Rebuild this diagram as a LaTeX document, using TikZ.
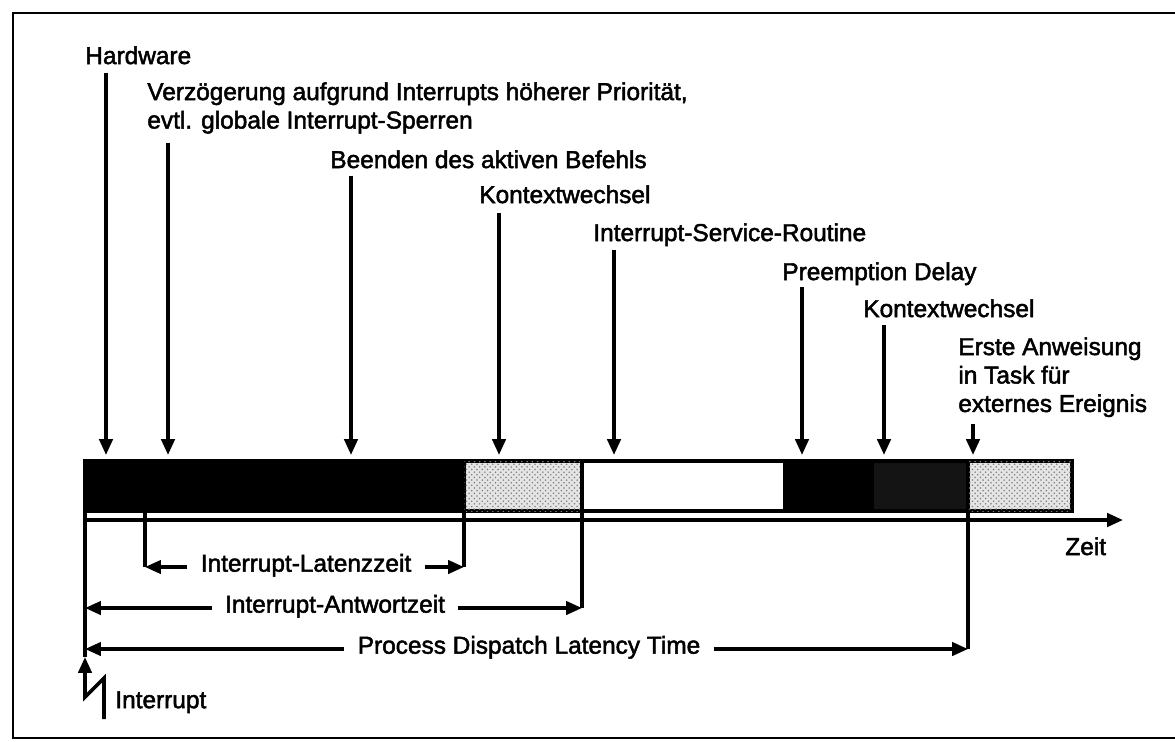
\documentclass[tikz,border=0pt]{standalone}
\usepackage{fontspec}
\setmainfont{Liberation Sans}[FakeBold=2]
\usetikzlibrary{
  arrows.meta,
  patterns
}

\begin{document}
\begin{tikzpicture}[
      x=0.02cm, y=-0.02cm,
      txt/.style={
        font=\fontsize{13.9}{16.2}\selectfont,
        inner sep=0pt, align=left, anchor=north west
      },
      dimtxt/.style={txt, anchor=mid, inner xsep=7.4pt},
      arrow/.style={-{Triangle[length=9pt, width=7.5pt]}, line width=2pt},
      dimline/.style={-{Triangle[length=9pt, width=7.5pt]}, line width=1.9pt},
      tick/.style={line width=1.9pt},
      seg/.style={draw, line width=1.9pt},
      stipple/.style={seg, fill=black!10,
        postaction={pattern=crosshatch dots, pattern color=black!50}}
    ]
      \useasboundingbox (0,0) rectangle (1175,741);
      \draw[line width=1.3pt] (1175,13) -- (13,13) -- (13,738) -- (1175,738);

      % Zeitbalken
      \draw[seg, fill=black] (85,461) rectangle (464,511);
      \draw[stipple] (464,461) rectangle (582,511);
      \draw[seg, fill=white] (582,461) rectangle (785,511);
      \draw[seg, fill=black] (785,461) rectangle (872,511);
      \draw[seg, fill=black!92] (872,461) rectangle (968,511);
      \draw[stipple] (968,461) rectangle (1072,511);

      \coordinate (t0) at (85,511);
      \coordinate (t1) at (145,511);
      \coordinate (t2) at (464,511);
      \coordinate (t3) at (582,511);
      \coordinate (t4) at (968,511);

      \draw[arrow] (t0 |- 0,520) -- (1123,520);
      \node[txt, anchor=base west] (zeit) at (1065,555) {Zeit};

      % Ereignisse
      \node[txt] (hw) at (85,46) {Hardware};
      \node[txt] (verz) at (147,82) {Verzögerung aufgrund Interrupts höherer Priorität,\\evtl. globale Interrupt-Sperren};
      \node[txt] (befehl) at (330,150) {Beenden des aktiven Befehls};
      \node[txt] (kw1) at (479,185) {Kontextwechsel};
      \node[txt] (isr) at (593,223) {Interrupt-Service-Routine};
      \node[txt] (pd) at (782,262) {Preemption Delay};
      \node[txt] (kw2) at (863,299) {Kontextwechsel};
      \node[txt] (task) at (958,337) {Erste Anweisung\\in Task für\\externes Ereignis};

      \coordinate (e1) at (106,455);
      \coordinate (e2) at (168,455);
      \coordinate (e3) at (351,455);
      \coordinate (e4) at (499,455);
      \coordinate (e5) at (614,455);
      \coordinate (e6) at (802,455);
      \coordinate (e7) at (884,455);
      \coordinate (e8) at (973,455);

      \draw[arrow] (e1 |- hw.south) ++(0,8) -- (e1);
      \draw[arrow] (e2 |- verz.south) ++(0,9) -- (e2);
      \draw[arrow] (e3 |- befehl.south) ++(0,7) -- (e3);
      \draw[arrow] (e4 |- kw1.south) ++(0,9) -- (e4);
      \draw[arrow] (e5 |- isr.south) ++(0,4) -- (e5);
      \draw[arrow] (e6 |- pd.south) ++(0,2) -- (e6);
      \draw[arrow] (e7 |- kw2.south) ++(0,7) -- (e7);
      \draw[arrow] (e8 |- task.south) ++(0,7) -- (e8);

      % Zeitspannen
      \node[dimtxt] (lat) at (306,567) {Interrupt-Latenzzeit};
      \node[dimtxt] (ant) at (335,608) {Interrupt-Antwortzeit};
      \node[dimtxt] (pdl) at (529,649) {Process Dispatch Latency Time};

      \draw[tick] (t1) -- (t1 |- lat.mid);
      \draw[tick] (t2) -- (t2 |- lat.mid);
      \draw[tick] (t3) -- (t3 |- ant.mid);
      \draw[tick] (t4) -- (t4 |- pdl.mid);
      \draw[dimline] (lat.mid west) -- (t1 |- lat.mid);
      \draw[dimline] (lat.mid east) -- (t2 |- lat.mid);
      \draw[dimline] (ant.mid west) -- (t0 |- ant.mid);
      \draw[dimline] (ant.mid east) -- (t3 |- ant.mid);
      \draw[dimline] (pdl.mid west) -- (t0 |- pdl.mid);
      \draw[dimline] (pdl.mid east) -- (t4 |- pdl.mid);

      % Interrupt
      \coordinate (irq) at (85,657);
      \draw[tick] (t0) -- (irq);
      \draw[arrow] (104,719) -- (104,678) -- (85,697) -- (irq);
      \node[txt] (irqtxt) at (115,691) {Interrupt};
    \end{tikzpicture}
\end{document}
